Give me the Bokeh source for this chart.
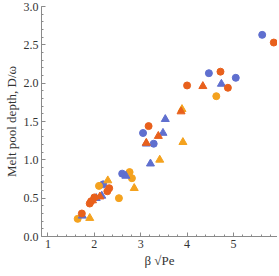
from bokeh.plotting import figure
from bokeh.models import FixedTicker, PrintfTickFormatter, Range1d
from bokeh.embed import file_html
from bokeh.resources import INLINE

# Data (beta*sqrt(Pe), D/omega)
blue_circ_x = [5.62, 4.47, 5.05, 3.05, 3.28, 2.60, 2.19]
blue_circ_y = [2.63, 2.13, 2.07, 1.35, 1.21, 0.82, 0.68]

blue_tri_x = [4.74, 3.53, 3.48, 3.12, 3.21, 2.68, 2.16, 2.04, 1.74]
blue_tri_y = [1.99, 1.53, 1.35, 1.21, 0.95, 0.79, 0.53, 0.50, 0.27]

orange_circ_x = [4.63, 2.76, 2.81, 2.53, 2.10, 1.64]
orange_circ_y = [1.83, 0.84, 0.76, 0.50, 0.66, 0.23]

orange_tri_x = [3.91, 3.41, 3.89, 2.29, 2.86, 1.90]
orange_tri_y = [1.23, 1.00, 1.66, 0.73, 0.63, 0.24]

red_circ_x = [5.87, 4.72, 4.88, 4.00, 3.17, 2.32, 2.28, 2.00, 1.93, 1.90, 1.73]
red_circ_y = [2.53, 2.15, 1.94, 1.97, 1.44, 0.63, 0.59, 0.51, 0.46, 0.43, 0.30]

red_tri_x = [4.34, 3.87, 3.38, 3.12, 2.12, 1.96]
red_tri_y = [1.96, 1.63, 1.31, 1.22, 0.52, 0.47]

x_major = [1, 2, 3, 4, 5]
y_major = [0.0, 0.5, 1.0, 1.5, 2.0, 2.5, 3.0]
x_label = "β √Pe"
y_label = "Melt pool depth, D/ω"

BLUE = "#5f6fcf"
ORANGE = "#f4a21e"
RED = "#e8601c"

p = figure(frame_width=236, frame_height=230, output_backend="svg", toolbar_location=None,
           x_range=Range1d(0.86, 5.95), y_range=Range1d(0.0, 3.0),
           min_border_left=33, min_border_right=0, min_border_top=6, min_border_bottom=0)
p.outline_line_color = None
p.xgrid.grid_line_color = None
p.ygrid.grid_line_color = None

p.scatter(blue_circ_x, blue_circ_y, marker="circle", size=7, color=BLUE)
p.scatter(orange_circ_x, orange_circ_y, marker="circle", size=7, color=ORANGE)
p.scatter(blue_tri_x, blue_tri_y, marker="triangle", size=8, color=BLUE)
p.scatter(orange_tri_x, orange_tri_y, marker="triangle", size=8, color=ORANGE)
p.scatter(red_circ_x, red_circ_y, marker="circle", size=7, color=RED)
p.scatter(red_tri_x, red_tri_y, marker="triangle", size=8, color=RED)

x_minor = [round(1 + 0.2 * i, 2) for i in range(-1, 25)]
y_minor = [round(0.1 * i, 2) for i in range(0, 31)]
p.xaxis.ticker = FixedTicker(ticks=x_major, minor_ticks=x_minor)
p.yaxis.ticker = FixedTicker(ticks=y_major, minor_ticks=y_minor)
p.yaxis.formatter = PrintfTickFormatter(format="%.1f")

for ax in (p.xaxis, p.yaxis):
    ax.axis_line_color = "#8a8a8a"
    ax.major_tick_line_color = "#8a8a8a"
    ax.minor_tick_line_color = "#8a8a8a"
    ax.major_tick_in = 4
    ax.major_tick_out = 0
    ax.minor_tick_in = 2
    ax.minor_tick_out = 0
    ax.major_label_text_font = "Liberation Serif"
    ax.major_label_text_font_size = "12px"
    ax.major_label_text_color = "#333333"
    ax.axis_label_text_font = "Liberation Serif"
    ax.axis_label_text_font_style = "normal"
    ax.axis_label_text_color = "#333333"

p.xaxis.axis_label = x_label
p.xaxis.axis_label_text_font_size = "13px"
p.xaxis.major_label_standoff = 3
p.xaxis.axis_label_standoff = 2

p.yaxis.axis_label = y_label
p.yaxis.axis_label_text_font_size = "13px"
p.yaxis.major_label_standoff = 3
p.yaxis.axis_label_standoff = 2

open("out.html", "w").write(file_html(p, INLINE))
